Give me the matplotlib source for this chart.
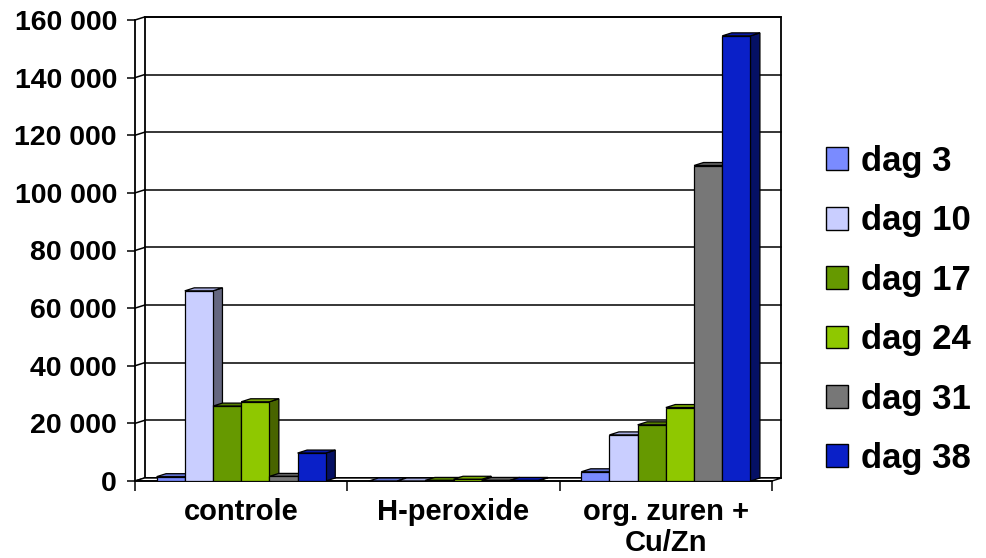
import matplotlib
matplotlib.use("Agg")
import matplotlib.pyplot as plt
from matplotlib.patches import Polygon, Patch
import numpy as np

plt.rcParams['font.family'] = ['Liberation Sans', 'DejaVu Sans']
plt.rcParams['font.weight'] = 'bold'

categories = ["controle", "H-peroxide", "org. zuren +\nCu/Zn"]
series = ["dag 3", "dag 10", "dag 17", "dag 24", "dag 31", "dag 38"]
dag3 = [1500, 0, 3200]
dag10 = [66000, 0, 16000]
dag17 = [26000, 200, 19500]
dag24 = [27500, 600, 25500]
dag31 = [1600, 200, 109500]
dag38 = [9700, 200, 154500]
values = [dag3, dag10, dag17, dag24, dag31, dag38]
yticks = [0, 20000, 40000, 60000, 80000, 100000, 120000, 140000, 160000]
ytick_labels = ["0", "20 000", "40 000", "60 000", "80 000", "100 000", "120 000", "140 000", "160 000"]

front_colors = ["#7A8BFF", "#C9CEFF", "#669900", "#8FC800", "#777777", "#0A20C8"]
side_colors = ["#3D4680", "#656780", "#334C00", "#486400", "#3C3C3C", "#051064"]
top_colors = ["#6070D0", "#A6ACE0", "#557F00", "#78A800", "#606060", "#0818A8"]

W, H = 986, 558
fig = plt.figure(figsize=(W / 100, H / 100), dpi=100)
x0px, x1px, y0px, y1px = 135, 772, 481, 20
ax = fig.add_axes([x0px / W, 1 - y0px / H, (x1px - x0px) / W, (y0px - y1px) / H])
ax.set_xlim(0, 3)
ax.set_ylim(0, 160000)

px_x = 3 / (x1px - x0px)
px_y = 160000 / (y0px - y1px)
dx = 9.5 * px_x
dy = 3.0 * px_y
ymax = 160000

lw_frame = 1.3
# back wall
ax.add_patch(Polygon([(dx, dy), (3 + dx, dy), (3 + dx, ymax + dy), (dx, ymax + dy)],
                     closed=True, facecolor="white", edgecolor="black", lw=lw_frame,
                     zorder=0.5, clip_on=False))
# gridlines on back wall and side wall connectors
for v in yticks:
    ax.plot([dx, 3 + dx], [v + dy, v + dy], color="black", lw=1.1, zorder=0.6, clip_on=False)
    ax.plot([0, dx], [v, v + dy], color="black", lw=1.1, zorder=0.6, clip_on=False)
# floor
ax.add_patch(Polygon([(0, 0), (3, 0), (3 + dx, dy), (dx, dy)], closed=True,
                     facecolor="white", edgecolor="black", lw=1.0, zorder=0.7, clip_on=False))

# bars
bw = 28.2 * px_x
nser = len(series)
z = 2
for ci in range(len(categories)):
    for si in range(nser):
        h = values[si][ci]
        xl = ci + 0.5 + (si - nser / 2) * bw
        xr = xl + bw
        ax.bar(xl, h, width=bw, align="edge", color=front_colors[si], edgecolor="black",
               lw=0.9, zorder=z + 0.2)
        ax.add_patch(Polygon([(xr, 0), (xr + dx, dy), (xr + dx, h + dy), (xr, h)], closed=True,
                             facecolor=side_colors[si], edgecolor="black", lw=0.9,
                             zorder=z, clip_on=False))
        ax.add_patch(Polygon([(xl, h), (xl + dx, h + dy), (xr + dx, h + dy), (xr, h)], closed=True,
                             facecolor=top_colors[si], edgecolor="black", lw=0.9,
                             zorder=z + 0.1, clip_on=False))
        z += 1

for s in ["top", "right"]:
    ax.spines[s].set_visible(False)
for s in ["left", "bottom"]:
    ax.spines[s].set_linewidth(lw_frame)
    ax.spines[s].set_zorder(1)

ax.set_yticks(yticks)
ax.set_yticklabels(ytick_labels, fontsize=20.5, fontweight="bold")
ax.tick_params(axis="y", direction="out", length=6, width=1.1, pad=7)
ax.set_xticks([0, 1, 2, 3])
ax.set_xticklabels([])
ax.set_xticks([0.5, 1.5, 2.5], minor=True)
ax.set_xticklabels(categories, minor=True, fontsize=21, fontweight="bold", linespacing=1.15)
ax.tick_params(axis="x", which="major", direction="out", length=7, width=1.1)
ax.tick_params(axis="x", which="minor", length=0, pad=12)
ax.set_facecolor("none")

handles = [Patch(facecolor=front_colors[i], edgecolor="black", lw=1.0, label=series[i]) for i in range(nser)]
fig.legend(handles=handles, loc="center left", bbox_to_anchor=(826 / W, 1 - 310 / H),
           frameon=False, handlelength=0.63, handleheight=0.63,
           handletextpad=0.37, labelspacing=0.76, borderaxespad=0, borderpad=0,
           prop={"weight": "bold", "size": 25})

fig.savefig("out.png", dpi=100)
